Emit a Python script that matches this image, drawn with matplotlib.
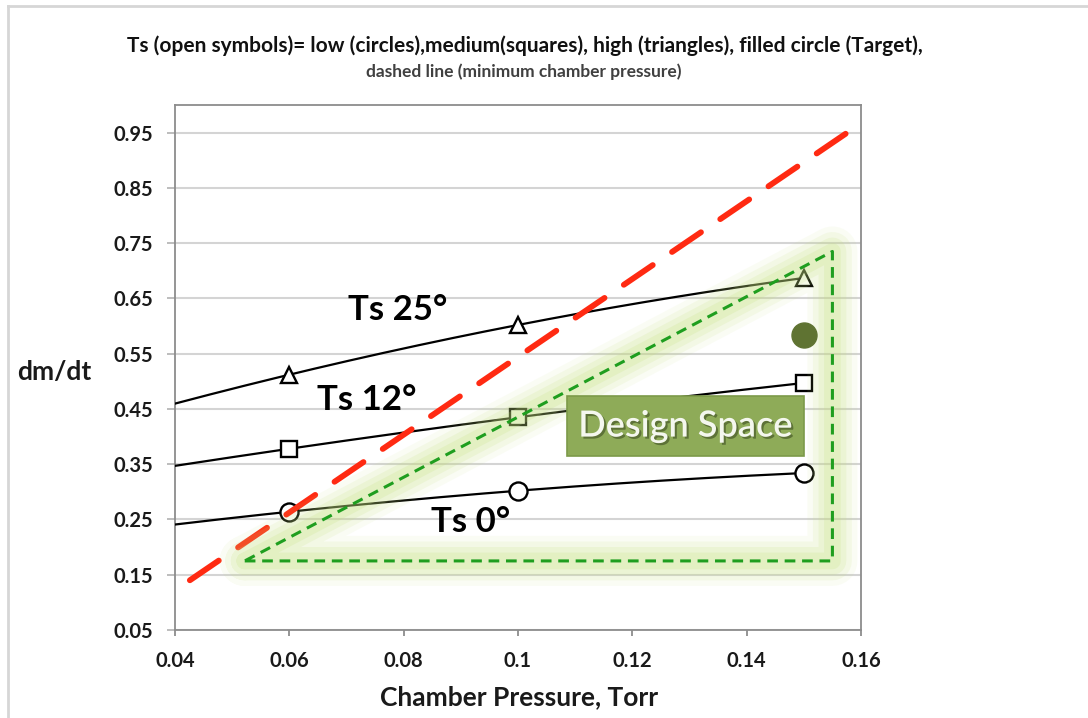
import numpy as np
import matplotlib
matplotlib.use("Agg")
import matplotlib.pyplot as plt
from matplotlib import patheffects as pe
from matplotlib.lines import Line2D
from matplotlib.patches import Rectangle

# ---- data -------------------------------------------------------------
pressure = [0.06, 0.10, 0.15]            # chamber pressure, Torr
rate_low = [0.264, 0.302, 0.334]         # Ts 0 deg  (circles)
rate_medium = [0.378, 0.435, 0.497]      # Ts 12 deg (squares)
rate_high = [0.512, 0.602, 0.687]        # Ts 25 deg (triangles)
target_pressure = [0.15]
target_rate = [0.584]

# minimum chamber pressure line (end points)
min_p_x = [0.0426, 0.1576]
min_p_y = [0.140, 0.950]

# design space triangle outline
design_x = [0.0522, 0.155, 0.155, 0.0522]
design_y = [0.175, 0.175, 0.735, 0.175]

x_ticks = [0.04, 0.06, 0.08, 0.10, 0.12, 0.14, 0.16]
x_tick_labels = ["0.04", "0.06", "0.08", "0.1", "0.12", "0.14", "0.16"]
y_ticks = [0.05, 0.15, 0.25, 0.35, 0.45, 0.55, 0.65, 0.75, 0.85, 0.95]
y_tick_labels = ["0.05", "0.15", "0.25", "0.35", "0.45", "0.55", "0.65",
                 "0.75", "0.85", "0.95"]

FONT = ["Lato", "DejaVu Sans"]
plt.rcParams["font.family"] = FONT

fig = plt.figure(figsize=(10.88, 7.18), dpi=100)
ax = fig.add_axes([175 / 1088, 1 - 630 / 718, 686 / 1088, 525 / 718])

ax.set_xlim(0.04, 0.16)
ax.set_ylim(0.05, 1.0)

# grid and frame
ax.set_yticks(y_ticks)
ax.set_yticklabels(y_tick_labels)
ax.set_xticks(x_ticks)
ax.set_xticklabels(x_tick_labels)
ax.yaxis.grid(True, color="#d4d4d4", linewidth=1.5)
ax.set_axisbelow(True)
for s in ax.spines.values():
    s.set_color("#8c8c8c")
    s.set_linewidth(1.3)
ax.tick_params(axis="y", direction="out", length=5.5, width=1.3,
               color="#b8b8b8", pad=10.5, labelsize=14.5,
               labelcolor="#1a1a1a")
ax.tick_params(axis="x", direction="out", length=4, width=1.3,
               color="#8c8c8c", pad=11, labelsize=14.5,
               labelcolor="#1a1a1a")
for lab in ax.get_xticklabels() + ax.get_yticklabels():
    lab.set_fontweight("bold")

# quadratic trend curves through each temperature series
xs = np.linspace(0.04, 0.15, 200)
for rates, marker, ms in [(rate_low, "o", 13),
                          (rate_medium, "s", 11),
                          (rate_high, "^", 12)]:
    coef = np.polyfit(pressure, rates, 2)
    ax.plot(xs, np.polyval(coef, xs), color="black", linewidth=1.6, zorder=3)
    ax.plot(pressure, rates, linestyle="none", marker=marker, markersize=ms,
            markerfacecolor="white", markeredgecolor="black",
            markeredgewidth=1.7, zorder=4)

# minimum chamber pressure
ax.plot(min_p_x, min_p_y, color="#ff2a12", linewidth=4.2,
        dashes=(6, 4), dash_capstyle="round", zorder=5)

# design space: soft glow plus dashed outline
for lw, a in [(36, 0.08), (28, 0.12), (20, 0.16), (12, 0.2)]:
    ax.plot(design_x, design_y, color="#c4e07e", linewidth=lw, alpha=a,
            solid_joinstyle="round", solid_capstyle="round", zorder=6)
ax.plot(design_x, design_y, color="#1f9e1f", linewidth=2.2,
        dashes=(3.5, 2.2), zorder=7)

# target
ax.plot(target_pressure, target_rate, linestyle="none", marker="o",
        markersize=18, color="#5f7332", zorder=8)

# design space label
ax.add_patch(Rectangle((0.1086, 0.365), 0.1500 - 0.1086, 0.4735 - 0.365,
                       facecolor="#8eab58", edgecolor="#7c9a49",
                       linewidth=1.2, zorder=8))
ax.text(0.1293, 0.419, "Design Space", ha="center", va="center",
        fontsize=26, fontweight="semibold", color="#f4f7ee", zorder=9,
        path_effects=[pe.withSimplePatchShadow(offset=(1.5, -1.5),
                                               shadow_rgbFace="#3d4d22",
                                               alpha=0.6)])

# series labels
for x, y, s in [(0.0790, 0.629, "Ts 25°"),
                (0.0735, 0.466, "Ts 12°"),
                (0.0917, 0.245, "Ts 0°")]:
    ax.text(x, y, s, ha="center", va="center", fontsize=25,
            fontweight="bold", color="black", zorder=9)

# titles and axis labels
fig.text(525 / 1088, 1 - 46 / 718,
         "Ts (open symbols)= low (circles),medium(squares), high (triangles), "
         "filled circle (Target),",
         ha="center", va="center", fontsize=15, fontweight="bold",
         color="#111111")
fig.text(524 / 1088, 1 - 72 / 718, "dashed line (minimum chamber pressure)",
         ha="center", va="center", fontsize=12.5, fontweight="bold",
         color="#404040")
fig.text(54 / 1088, 1 - 372 / 718, "dm/dt", ha="center", va="center",
         fontsize=19, fontweight="bold", color="#1a1a1a")
fig.text(519 / 1088, 1 - 697 / 718, "Chamber Pressure, Torr", ha="center",
         va="center", fontsize=19, fontweight="bold", color="#1a1a1a")

# light outer chart frame
fig.add_artist(Line2D([8 / 1088, 8 / 1088], [0, 1 - 6 / 718],
                      transform=fig.transFigure, color="#d6d6d6", linewidth=2))
fig.add_artist(Line2D([8 / 1088, 1], [1 - 6 / 718, 1 - 6 / 718],
                      transform=fig.transFigure, color="#d6d6d6", linewidth=2))

fig.savefig("out.png", dpi=100)
